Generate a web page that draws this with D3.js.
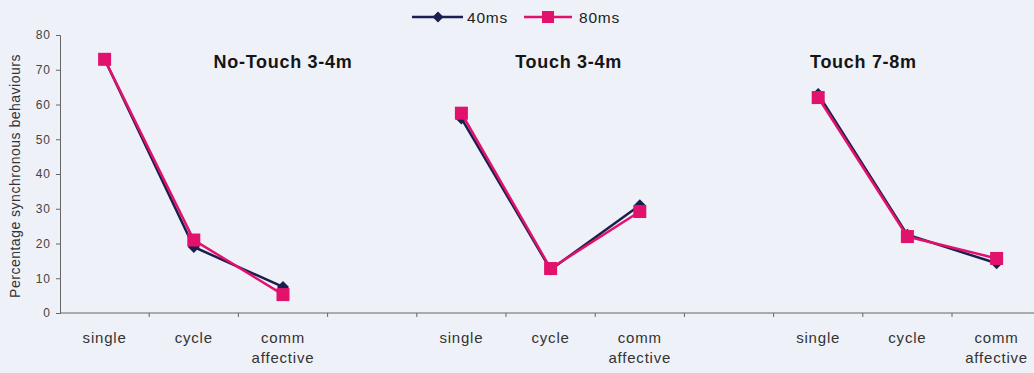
<!DOCTYPE html>
<html><head><meta charset="utf-8">
<script src="https://cdn.jsdelivr.net/npm/d3@7"></script>
<style>
html,body{margin:0;padding:0;background:#eef1f7;}
svg{display:block;font-family:Arial,"Liberation Sans",sans-serif;}
</style></head>
<body><svg id="c" width="1034" height="373"></svg>
<script>
const slots = ["s1","c1","a1","g1","s2","c2","a2","g2","s3","c3","a3"];
const slotLabels = ["single","cycle","comm\naffective","","single","cycle","comm\naffective","","single","cycle","comm\naffective"];
const groupTitles = ["No-Touch 3-4m","Touch 3-4m","Touch 7-8m"];
const groupSlots = [["s1","c1","a1"],["s2","c2","a2"],["s3","c3","a3"]];
const series40 = [[73,19,7.5],[56,12.5,31],[63,22.5,14.3]];
const series80 = [[73,21,5.3],[57.5,12.8,29.2],[62,22,15.7]];
const yTicks = [0,10,20,30,40,50,60,70,80];
const seriesNames = ["40ms","80ms"];
const seriesColors = ["#1b1f4f","#e2126c"];

const svg = d3.select("#c");
const m = {left:60, top:35, bottom:313};
const x = d3.scaleBand().domain(slots).range([m.left, m.left + 11*89.2]).padding(0);
const y = d3.scaleLinear().domain([0,80]).range([m.bottom, m.top]);

// y axis
const ya = svg.append("g").attr("transform",`translate(${m.left},0)`)
  .call(d3.axisLeft(y).tickValues(yTicks).tickSize(4).tickPadding(5));
ya.select(".domain").attr("stroke","#666");
ya.selectAll(".tick line").attr("stroke","#666");
ya.selectAll(".tick text").attr("fill","#444").attr("font-size","12px").attr("letter-spacing","1px")
  .attr("font-family","Arial,'Liberation Sans',sans-serif");

// x axis
const xa = svg.append("g").attr("transform",`translate(0,${m.bottom})`);
xa.append("line").attr("x1",m.left).attr("x2",1034).attr("stroke","#666");
xa.selectAll("line.tk").data(slots.slice(1)).enter().append("line").attr("class","tk")
  .attr("x1",d=>x(d)).attr("x2",d=>x(d)).attr("y1",0).attr("y2",4).attr("stroke","#666");
slots.forEach((s,i)=>{
  const lines = slotLabels[i].split("\n");
  const cx = x(s)+x.bandwidth()/2;
  const t = xa.append("text").attr("x",cx).attr("y",30)
    .attr("text-anchor","middle").attr("fill","#333").attr("font-size","15px").attr("letter-spacing","0.8px");
  lines.forEach((l,j)=>t.append("tspan").attr("x",cx).attr("dy",j?20:0).text(l));
});

// y label
svg.append("text").attr("transform","translate(20,176) rotate(-90)").attr("text-anchor","middle")
  .attr("fill","#333").attr("font-size","14px").attr("letter-spacing","0.5px").text("Percentage synchronous behaviours");

// titles (placed relative to each group's slots)
const titleOffsets = [[2,0],[1,18],[1,-44]];
groupTitles.forEach((t,g)=>{
  const s = groupSlots[g][titleOffsets[g][0]];
  svg.append("text").attr("x",x(s)+x.bandwidth()/2 + titleOffsets[g][1]).attr("y",68)
    .attr("text-anchor","middle").attr("font-weight","bold").attr("font-size","18px")
    .attr("letter-spacing","0.7px").attr("fill","#151515").text(t);
});

const line = d3.line().x(d=>x(d.s)+x.bandwidth()/2).y(d=>y(d.v));
function diamond(sel,cx,cy,r,col){
  sel.append("path").attr("d",`M${cx},${cy-r}L${cx+r},${cy}L${cx},${cy+r}L${cx-r},${cy}Z`).attr("fill",col);
}
[series40,series80].forEach((ser,si)=>{
  ser.forEach((vals,g)=>{
    const pts = vals.map((v,i)=>({s:groupSlots[g][i],v}));
    svg.append("path").datum(pts).attr("d",line).attr("fill","none")
      .attr("stroke",seriesColors[si]).attr("stroke-width",2.5);
    pts.forEach(p=>{
      const cx=x(p.s)+x.bandwidth()/2, cy=y(p.v);
      if(si===0) diamond(svg,cx,cy,6,seriesColors[0]);
      else svg.append("rect").attr("x",cx-6.5).attr("y",cy-6.5).attr("width",13).attr("height",13).attr("fill",seriesColors[1]);
    });
  });
});

// legend
const lg = svg.append("g");
[[412,463,438,467],[524,572,548,579]].forEach((p,i)=>{
  lg.append("line").attr("x1",p[0]).attr("x2",p[1]).attr("y1",17).attr("y2",17).attr("stroke",seriesColors[i]).attr("stroke-width",2.5);
  if(i===0) diamond(lg,p[2],17,5.5,seriesColors[0]);
  else lg.append("rect").attr("x",p[2]-6).attr("y",11).attr("width",12).attr("height",12).attr("fill",seriesColors[1]);
  lg.append("text").attr("x",p[3]).attr("y",22.5).attr("font-size","15.5px").attr("letter-spacing","0.8px").attr("fill","#222").text(seriesNames[i]);
});
</script></body></html>
